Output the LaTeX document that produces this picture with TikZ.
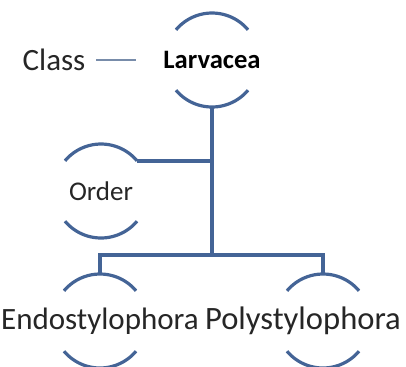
\documentclass[tikz,border=0pt]{standalone}
\usepackage{fontspec}
\setmainfont{Carlito}
\usetikzlibrary{calc}
\definecolor{rankblue}{RGB}{68,100,150}
\definecolor{dashgray}{RGB}{120,140,170}
\definecolor{txtgray}{RGB}{38,38,38}

\begin{document}
\begin{tikzpicture}[
  x=0.5pt, y=-0.5pt,
  ring/.style={circle, minimum size=47pt, inner sep=0pt, outer sep=0pt},
  taxon/.style={ring,
                label={[text=txtgray, font=\fontsize{15.5}{18}\selectfont]center:#1}},
  small/.style={ring,
                label={[text=txtgray, font=\fontsize{13.5}{16}\selectfont]center:#1}},
  rank/.style={text=txtgray, font=\fontsize{15.5}{18}\selectfont},
  bracket/.style={draw=rankblue, line width=1.6pt},
  trunk/.style={draw=rankblue, line width=1.7pt},
  dashline/.style={draw=dashgray, line width=0.6pt},
]

\def\r{23.5pt}  % bracket radius
\def\bary{255}  % level of the bottom bar

\useasboundingbox (0,0) rectangle (406,366);

%% --- Taxa ---
\node[rank] (cl) at (54,60) {Class};
\node[ring, label={[font=\fontsize{13.3}{16}\selectfont\bfseries]center:Larvacea}] (lv) at (212,60) {};
\node[small=Order] (od) at (101,191) {};
\node[taxon=Endostylophora] (en) at (100,321) {};
\node[ring, label={[text=txtgray, font=\fontsize{16.3}{19}\selectfont, xshift=-10pt]center:Polystylophora}] (po) at (323,321) {};

%% --- Brackets round each taxon ---
\foreach \n in {lv,od,en,po}{
  \draw[bracket] (\n.40) arc[start angle=40, end angle=140, radius=\r];
  \draw[bracket] (\n.-140) arc[start angle=-140, end angle=-40, radius=\r];
}

%% --- Class label ---
\draw[dashline, shorten <=2pt, shorten >=14.5pt] (cl.east) -- (lv.west);

%% --- Tree ---
\coordinate (mid) at (lv.south |- 0,\bary);
\draw[trunk] (lv.south) -- (mid);
\draw[trunk] (od.40) -- (od.40 -| lv.south);
\draw[trunk] (en.north) -- (en.north |- mid) -- (po.north |- mid) -- (po.north);

\end{tikzpicture}
\end{document}
